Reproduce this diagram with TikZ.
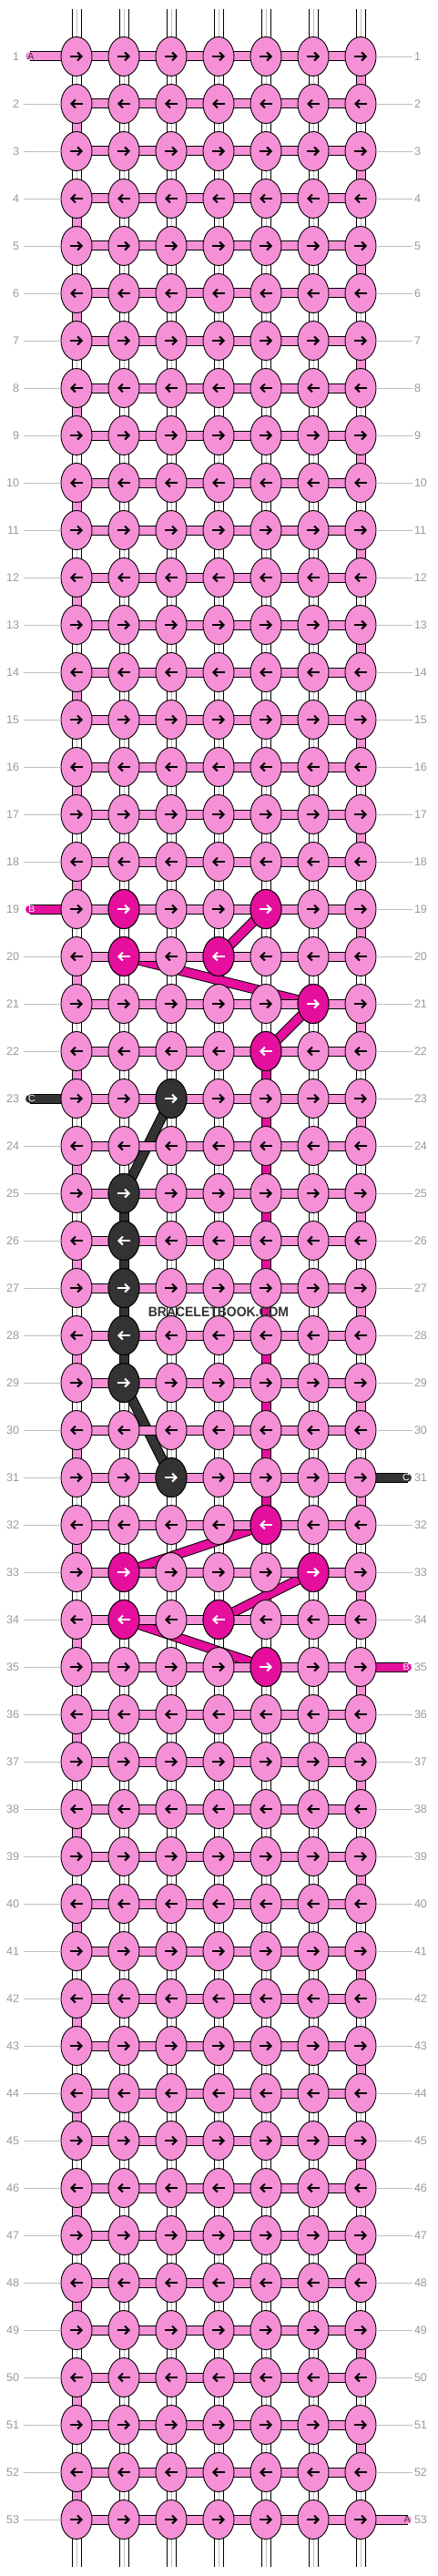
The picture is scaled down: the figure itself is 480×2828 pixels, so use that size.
\documentclass[tikz,border=0pt]{standalone}
\usepackage{fontspec}
\setmainfont{Liberation Sans}
\usetikzlibrary{shapes.geometric,arrows.meta}

\definecolor{knotpink}{HTML}{F590D6}
\definecolor{knotmag}{HTML}{E50E9D}
\definecolor{knotdark}{HTML}{333333}
\definecolor{rowgray}{HTML}{999999}

\pgfdeclarelayer{bg}
\pgfsetlayers{bg,main}

\tikzset{
  knot/.style={ellipse, draw=black, line width=0.9pt, fill=#1, minimum width=34pt, minimum height=43pt, inner sep=0pt},
  knot/.default=knotpink,
  knotarrow/.style={line width=2pt, -{Straight Barb[length=4.5pt,width=9pt]}},
  band/.style={draw=#1, line width=9pt, preaction={draw=black, line width=11pt}},
  warp/.style={draw=white, line width=9pt, preaction={draw=black, line width=11pt}, postaction={draw=black!25, line width=0.8pt}},
  rownum/.style={text=rowgray, font=\fontsize{12.5}{14}\selectfont, inner sep=0pt},
  rowline/.style={draw=black!25, line width=0.8pt},
  endtag/.style={font=\fontsize{10.5}{12}\selectfont, inner sep=0pt},
}

\begin{document}
\begin{tikzpicture}[x=1pt, y=-1pt]

    \useasboundingbox (0,0) rectangle (480,2828);

    \foreach \r in {1,...,53}{
        \ifodd\r\relax \def\d{1}\else \def\d{-1}\fi
        \foreach \c in {1,...,7}{
            \node[knot] (k-\r-\c) at (32+52*\c, 10+52*\r) {};
            \draw[knotarrow] ([xshift=-7*\d]k-\r-\c.center) -- ([xshift=7*\d]k-\r-\c.center);
        }
        \node[rownum, anchor=east, outer sep=5pt] (rl-\r) at (26, 10+52*\r) {\r};
        \node[rownum, anchor=west, outer sep=2pt] (rr-\r) at (453, 10+52*\r) {\r};
        \pgfmathtruncatemacro{\nol}{(\r==1)||(\r==19)||(\r==23)}
        \pgfmathtruncatemacro{\nor}{(\r==31)||(\r==35)||(\r==53)}
        \ifnum\nol=0 \draw[rowline] (rl-\r) -- (k-\r-1); \fi
        \ifnum\nor=0 \draw[rowline] (k-\r-7) -- (rr-\r); \fi
    }

    \foreach \r/\c in {19/2,19/5,20/2,20/4,21/6,22/5,32/5,33/2,33/6,34/2,34/4,35/5}{
        \ifodd\r\relax \def\d{1}\else \def\d{-1}\fi
        \node[knot=knotmag] (k-\r-\c) at (32+52*\c, 10+52*\r) {};
        \draw[knotarrow, white] ([xshift=-7*\d]k-\r-\c.center) -- ([xshift=7*\d]k-\r-\c.center);
    }
    \foreach \r/\c in {23/3,25/2,26/2,27/2,28/2,29/2,31/3}{
        \ifodd\r\relax \def\d{1}\else \def\d{-1}\fi
        \node[knot=knotdark] (k-\r-\c) at (32+52*\c, 10+52*\r) {};
        \draw[knotarrow, white] ([xshift=-7*\d]k-\r-\c.center) -- ([xshift=7*\d]k-\r-\c.center);
    }

    \coordinate (A-in) at (32.5, 62);
    \coordinate (B-in) at (32.5, 998);
    \coordinate (C-in) at (32.5, 1206);
    \coordinate (C-out) at (447.5, 1622);
    \coordinate (B-out) at (447.5, 1830);
    \coordinate (A-out) at (447.5, 2766);

    \node[endtag, text=knotdark] (tag-A-in) at (34, 62) {A};
    \node[endtag, text=white] (tag-B-in) at (35, 998) {B};
    \node[endtag, text=white] (tag-C-in) at (35, 1206) {C};
    \node[endtag, text=white] (tag-C-out) at (446, 1622) {C};
    \node[endtag, text=white] (tag-B-out) at (446, 1830) {B};
    \node[endtag, text=knotdark] (tag-A-out) at (447, 2766) {A};

    \node[font=\bfseries\fontsize{15}{16}\selectfont, text=knotdark] (mark) at (240, 1440) {\scalebox{0.93}[1]{BRACELETBOOK.COM}};

    \begin{pgfonlayer}{bg}
        \foreach \c in {1,...,7}{
            \coordinate (top-\c) at (32+52*\c, 10);
            \coordinate (bot-\c) at (32+52*\c, 2818);
            \draw[warp, line cap=round] (top-\c) -- (k-1-\c.center);
            \draw[warp, line cap=round] (k-53-\c.center) -- (bot-\c);
            \foreach \r [count=\n from 2] in {1,...,52}
                \draw[warp] (k-\r-\c.center) -- (k-\n-\c.center);
        }

        \foreach \r [count=\n from 2] in {1,...,52}{
            \ifodd\r\relax \draw[band=knotpink] (k-\r-7.center) -- (k-\n-7.center);
            \else \draw[band=knotpink] (k-\r-1.center) -- (k-\n-1.center); \fi
        }
        \foreach \r [count=\n from 23] in {22,...,31}
            \draw[band=knotmag] (k-\r-5.center) -- (k-\n-5.center);
        \foreach \r [count=\n from 26] in {25,...,28}
            \draw[band=knotdark] (k-\r-2.center) -- (k-\n-2.center);

        \draw[band=knotmag] (k-19-5.center) -- (k-20-4.center);
        \draw[band=knotmag] (k-20-2.center) -- (k-21-6.center);
        \draw[band=knotmag] (k-21-6.center) -- (k-22-5.center);
        \draw[band=knotmag] (k-32-5.center) -- (k-33-2.center);
        \draw[band=knotmag] (k-33-6.center) -- (k-34-4.center);
        \draw[band=knotmag] (k-34-2.center) -- (k-35-5.center);
        \draw[band=knotdark] (k-23-3.center) -- (k-25-2.center);
        \draw[band=knotdark] (k-29-2.center) -- (k-31-3.center);

        \foreach \r in {1,...,53}
            \foreach \c [count=\n from 2] in {1,...,6}
                \draw[band=knotpink] (k-\r-\c.center) -- (k-\r-\n.center);

        \draw[band=knotpink, line cap=round] (A-in) -- (k-1-1.center);
        \draw[band=knotmag, line cap=round] (B-in) -- (k-19-1.center);
        \draw[band=knotdark, line cap=round] (C-in) -- (k-23-1.center);
        \draw[band=knotdark, line cap=round] (k-31-7.center) -- (C-out);
        \draw[band=knotmag, line cap=round] (k-35-7.center) -- (B-out);
        \draw[band=knotpink, line cap=round] (k-53-7.center) -- (A-out);
    \end{pgfonlayer}

\end{tikzpicture}
\end{document}
